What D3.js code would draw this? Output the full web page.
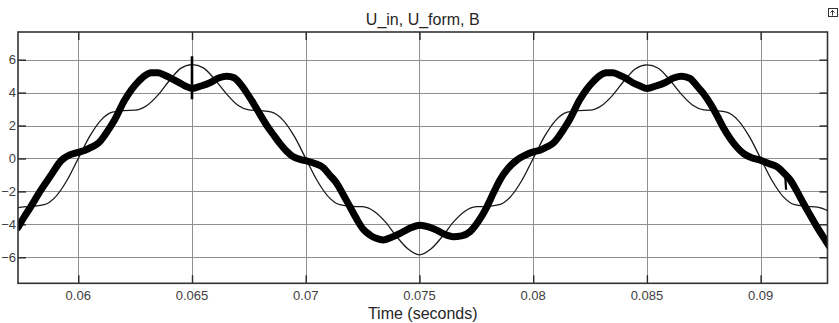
<!DOCTYPE html>
<html>
<head>
<meta charset="utf-8">
<script src="https://cdn.jsdelivr.net/npm/d3@7/dist/d3.min.js"></script>
<style>
  body { margin: 0; background: #fff; }
  svg { display: block; font-family: "Liberation Sans", Arial, Helvetica, sans-serif; }
  .grid line { stroke: #8f8f8f; stroke-width: 1; shape-rendering: crispEdges; }
  .tickLabel { fill: #404040; font-size: 13px; }
</style>
</head>
<body>
<div id="chartDiv"></div>
<script>
// scope title / axis text
const chartTitle = "U_in, U_form, B";
const xLabel = "Time (seconds)";
const xTicks = [0.06, 0.065, 0.07, 0.075, 0.08, 0.085, 0.09];
const yTicks = [-6, -4, -2, 0, 2, 4, 6];

const formTime = [0.0570, 0.0575, 0.0580, 0.0585, 0.0590, 0.0595, 0.0600, 0.0605, 0.0610, 0.0615,
  0.0620, 0.0625, 0.0630, 0.0635, 0.0640, 0.0645, 0.0650, 0.0655, 0.0660, 0.0665,
  0.0670, 0.0675, 0.0680, 0.0685, 0.0690, 0.0695, 0.0700, 0.0705, 0.0710, 0.0715,
  0.0720, 0.0725, 0.0730, 0.0735, 0.0740, 0.0745, 0.0750, 0.0755, 0.0760, 0.0765,
  0.0770, 0.0775, 0.0780, 0.0785, 0.0790, 0.0795, 0.0800, 0.0805, 0.0810, 0.0815,
  0.0820, 0.0825, 0.0830, 0.0835, 0.0840, 0.0845, 0.0850, 0.0855, 0.0860, 0.0865,
  0.0870, 0.0875, 0.0880, 0.0885, 0.0890, 0.0895, 0.0900, 0.0905, 0.0910, 0.0915,
  0.0920, 0.0925, 0.0930];
const formValues = [-3.20, -2.95, -2.91, -2.81, -2.33, -1.34, 0.00, 1.34, 2.33, 2.81,
  2.91, 2.93, 3.20, 3.85, 4.72, 5.47, 5.70, 5.50, 4.80, 3.95,
  3.25, 2.95, 2.90, 2.81, 2.33, 1.34, 0.00, -1.34, -2.33, -2.81,
  -2.91, -2.93, -3.20, -3.85, -4.75, -5.50, -5.85, -5.50, -4.75, -3.85,
  -3.20, -2.93, -2.91, -2.81, -2.33, -1.34, 0.00, 1.34, 2.33, 2.81,
  2.91, 2.93, 3.20, 3.85, 4.72, 5.45, 5.68, 5.48, 4.78, 3.92,
  3.25, 2.95, 2.90, 2.81, 2.33, 1.34, 0.00, -1.34, -2.33, -2.81,
  -2.91, -2.95, -3.20];

// thick trace (U_in / B)
const inTime = [0.05735, 0.05760, 0.05788, 0.05810, 0.05832, 0.05876, 0.05927, 0.05960, 0.05995, 0.06030,
  0.06060, 0.06090, 0.06116, 0.06140, 0.06160, 0.06204, 0.06235, 0.06263, 0.06290, 0.06321,
  0.06350, 0.06380, 0.06410, 0.06438, 0.06470, 0.06500, 0.06540, 0.06579, 0.06620, 0.06653,
  0.06685, 0.06711, 0.06740, 0.06770, 0.06800, 0.06829, 0.06860, 0.06887, 0.06915, 0.06945,
  0.06975, 0.07004, 0.07040, 0.07077, 0.07105, 0.07136, 0.07165, 0.07195, 0.07225, 0.07253,
  0.07283, 0.07310, 0.07341, 0.07375, 0.07415, 0.07455, 0.07502, 0.07540, 0.07576, 0.07610,
  0.07649, 0.07685, 0.07722, 0.07760, 0.07796, 0.07825, 0.07854, 0.07890, 0.07928, 0.07965,
  0.08001, 0.08030, 0.08060, 0.08090, 0.08116, 0.08140, 0.08160, 0.08204, 0.08235, 0.08263,
  0.08290, 0.08321, 0.08350, 0.08380, 0.08410, 0.08438, 0.08470, 0.08500, 0.08540, 0.08579,
  0.08620, 0.08653, 0.08689, 0.08720, 0.08748, 0.08780, 0.08807, 0.08835, 0.08866, 0.08895,
  0.08924, 0.08960, 0.08998, 0.09035, 0.09071, 0.09100, 0.09130, 0.09160, 0.09188, 0.09218,
  0.09247, 0.09284, 0.09310];
const inValues = [-4.20, -3.60, -3.00, -2.50, -2.00, -1.10, -0.10, 0.20, 0.35, 0.50,
  0.70, 0.95, 1.40, 1.90, 2.35, 3.55, 4.20, 4.65, 5.00, 5.20,
  5.20, 5.05, 4.85, 4.65, 4.40, 4.25, 4.40, 4.60, 4.90, 5.00,
  4.90, 4.55, 4.00, 3.35, 2.65, 2.00, 1.40, 0.90, 0.45, 0.10,
  -0.05, -0.15, -0.30, -0.55, -1.00, -1.50, -2.20, -2.95, -3.70, -4.30,
  -4.65, -4.85, -4.95, -4.80, -4.55, -4.25, -4.05, -4.15, -4.35, -4.60,
  -4.75, -4.70, -4.45, -3.80, -2.95, -2.10, -1.30, -0.60, -0.10, 0.20,
  0.40, 0.50, 0.70, 0.95, 1.40, 1.90, 2.35, 3.55, 4.20, 4.65,
  5.00, 5.20, 5.20, 5.05, 4.85, 4.60, 4.40, 4.25, 4.40, 4.60,
  4.90, 5.00, 4.87, 4.40, 3.96, 3.30, 2.64, 1.90, 1.22, 0.70,
  0.31, 0.05, -0.10, -0.30, -0.50, -0.85, -1.30, -2.00, -2.72, -3.45,
  -4.14, -4.95, -5.50];

// short glitches on the thick trace
const spikeTime = [0.06500, 0.06500];
const spikeValues = [6.2, 3.6];
const hookTime = [0.09108, 0.09112];
const hookValues = [-1.05, -1.9];

const xDomain = [0.05735, 0.09294];
const yDomain = [-7.58, 7.68];

const width = 839, height = 323;
const margin = {top: 32, right: 11.5, bottom: 39.7, left: 18};

let svg = d3.select("#chartDiv").append("svg")
    .attr("width", width)
    .attr("height", height);

let x = d3.scaleLinear()
    .domain(xDomain)
    .range([margin.left, width - margin.right]);

let y = d3.scaleLinear()
    .domain(yDomain)
    .range([height - margin.bottom, margin.top]);

const plotW = width - margin.left - margin.right;
const plotH = height - margin.top - margin.bottom;

svg.append("clipPath").attr("id", "plotClip")
    .append("rect")
    .attr("x", margin.left).attr("y", margin.top)
    .attr("width", plotW).attr("height", plotH);

// grid
let grid = svg.append("g").attr("class", "grid");
grid.selectAll("line.v")
    .data(xTicks)
    .enter().append("line")
    .attr("class", "v")
    .attr("x1", d => Math.round(x(d)) + 0.5).attr("x2", d => Math.round(x(d)) + 0.5)
    .attr("y1", margin.top).attr("y2", height - margin.bottom);
grid.selectAll("line.h")
    .data(yTicks)
    .enter().append("line")
    .attr("class", "h")
    .attr("y1", d => Math.round(y(d)) + 0.5).attr("y2", d => Math.round(y(d)) + 0.5)
    .attr("x1", margin.left).attr("x2", width - margin.right);

// inward ticks on all four sides
const tickLen = 8;
let axisStyle = g => {
    g.select(".domain").remove();
    g.selectAll(".tick line").attr("stroke", "#262626").attr("stroke-width", 1.4);
    g.selectAll(".tick text").remove();
};
svg.append("g")
    .attr("transform", `translate(0, ${height - margin.bottom})`)
    .call(d3.axisBottom(x).tickValues(xTicks).tickSizeInner(-tickLen).tickSizeOuter(0))
    .call(axisStyle);
svg.append("g")
    .attr("transform", `translate(0, ${margin.top})`)
    .call(d3.axisTop(x).tickValues(xTicks).tickSizeInner(-tickLen).tickSizeOuter(0))
    .call(axisStyle);
svg.append("g")
    .attr("transform", `translate(${margin.left}, 0)`)
    .call(d3.axisLeft(y).tickValues(yTicks).tickSizeInner(-tickLen).tickSizeOuter(0))
    .call(axisStyle);
svg.append("g")
    .attr("transform", `translate(${width - margin.right}, 0)`)
    .call(d3.axisRight(y).tickValues(yTicks).tickSizeInner(-tickLen).tickSizeOuter(0))
    .call(axisStyle);

// tick labels
svg.selectAll("text.xt")
    .data(xTicks)
    .enter().append("text")
    .attr("class", "tickLabel xt")
    .attr("x", d => x(d))
    .attr("y", 300)
    .style("text-anchor", "middle")
    .text(d => d3.format("")(d));
svg.selectAll("text.yt")
    .data(yTicks)
    .enter().append("text")
    .attr("class", "tickLabel yt")
    .attr("x", 16)
    .attr("y", d => y(d) + 4.5)
    .style("text-anchor", "end")
    .text(d => d3.format("")(d));

// traces
let line = d3.line()
    .x(d => x(d[0]))
    .y(d => y(d[1]))
    .curve(d3.curveMonotoneX);

let plot = svg.append("g").attr("clip-path", "url(#plotClip)");

plot.append("path")
    .datum(formTime.map((t, i) => [t, formValues[i]]))
    .attr("fill", "none")
    .attr("stroke", "#1a1a1a")
    .attr("stroke-width", 1.3)
    .attr("d", line);

plot.append("path")
    .datum(inTime.map((t, i) => [t, inValues[i]]))
    .attr("fill", "none")
    .attr("stroke", "#000")
    .attr("stroke-width", 7)
    .attr("stroke-linejoin", "round")
    .attr("stroke-linecap", "round")
    .attr("d", line);

let straight = d3.line().x(d => x(d[0])).y(d => y(d[1]));
plot.append("path")
    .datum(spikeTime.map((t, i) => [t, spikeValues[i]]))
    .attr("fill", "none")
    .attr("stroke", "#000")
    .attr("stroke-width", 2.6)
    .attr("d", straight);
plot.append("path")
    .datum(hookTime.map((t, i) => [t, hookValues[i]]))
    .attr("fill", "none")
    .attr("stroke", "#000")
    .attr("stroke-width", 2.2)
    .attr("d", straight);

// plot box
svg.append("rect")
    .attr("x", margin.left).attr("y", margin.top)
    .attr("width", plotW).attr("height", plotH)
    .attr("fill", "none")
    .attr("stroke", "#333")
    .attr("stroke-width", 1.6);

// title and x label
svg.append("text")
    .attr("x", margin.left + plotW / 2)
    .attr("y", 25)
    .style("text-anchor", "middle")
    .style("font-size", "16px")
    .style("fill", "#262626")
    .text(chartTitle);

svg.append("text")
    .attr("x", margin.left + plotW / 2)
    .attr("y", 319)
    .style("text-anchor", "middle")
    .style("font-size", "16px")
    .style("fill", "#262626")
    .text(xLabel);

// undock icon, top right corner
let icon = svg.append("g").attr("transform", "translate(828.5, 8.5)");
icon.append("rect")
    .attr("width", 9).attr("height", 8)
    .attr("fill", "none").attr("stroke", "#333").attr("stroke-width", 1);
icon.append("path")
    .attr("d", "M4,7 L4,2 M2,4 L4,2 L6,4")
    .attr("fill", "none").attr("stroke", "#333").attr("stroke-width", 1);
</script>
</body>
</html>
